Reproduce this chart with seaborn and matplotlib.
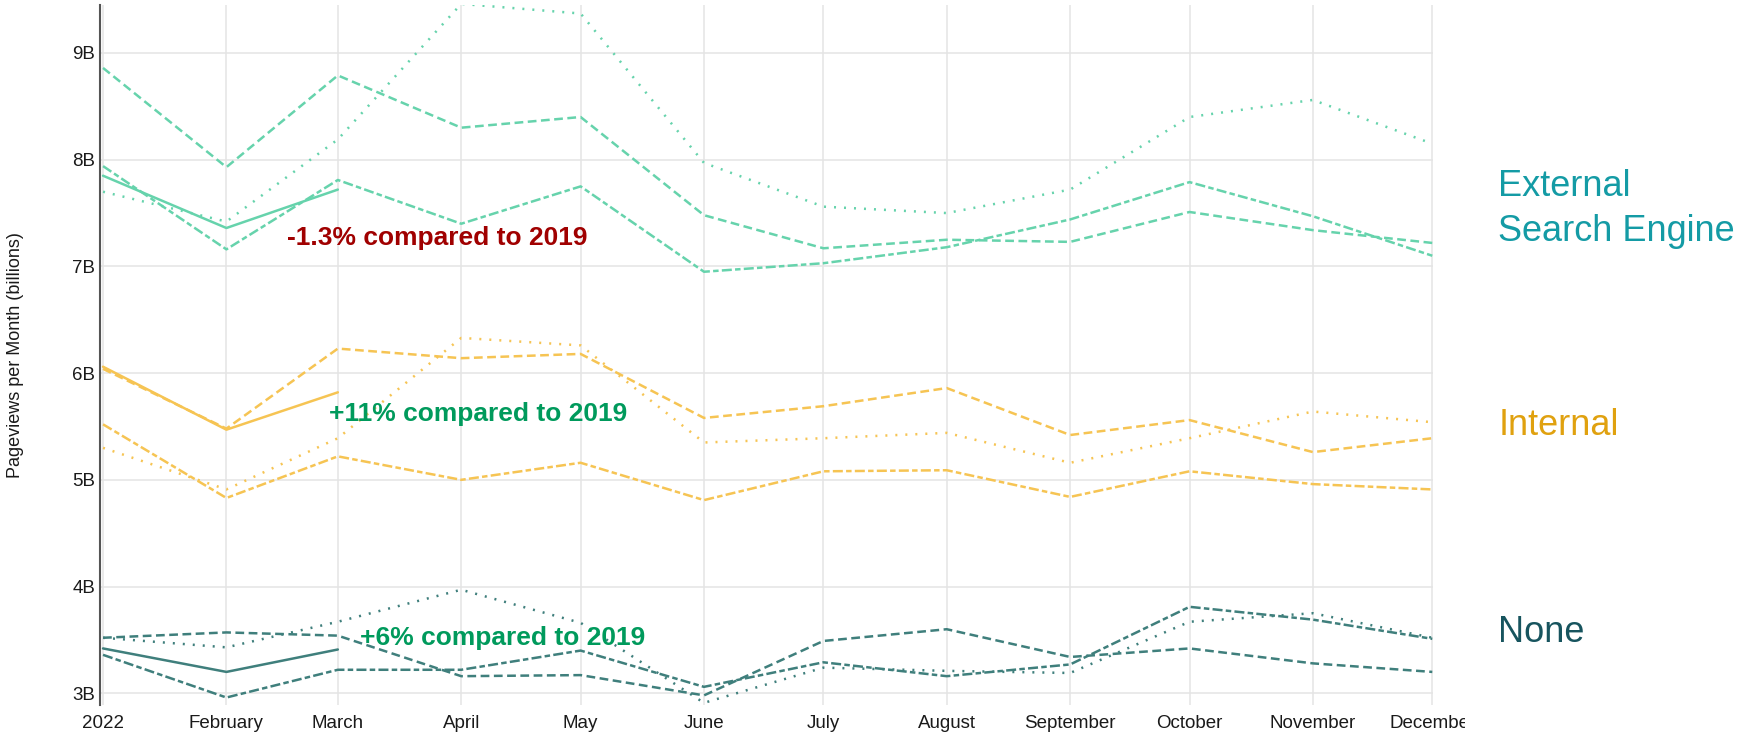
import pandas as pd
import matplotlib
matplotlib.use("Agg")
import matplotlib.pyplot as plt
import matplotlib.transforms as mtransforms
import seaborn as sns

# months of the year (date axis, so spacing follows days per month)
months = pd.date_range("2022-01-01", periods=12, freq="MS")
month_labels = ["2022", "February", "March", "April", "May", "June", "July",
                "August", "September", "October", "November", "December"]

# pageviews per month, billions
ext_2019 = [8.86, 7.93, 8.79, 8.30, 8.40, 7.48, 7.17, 7.25, 7.23, 7.51, 7.34, 7.22]
ext_2020 = [7.70, 7.42, 8.19, 9.46, 9.37, 7.97, 7.56, 7.50, 7.72, 8.40, 8.56, 8.15]
ext_2021 = [7.94, 7.16, 7.81, 7.40, 7.75, 6.95, 7.03, 7.18, 7.44, 7.79, 7.47, 7.10]
ext_2022 = [7.85, 7.36, 7.72]

int_2019 = [6.04, 5.48, 6.23, 6.14, 6.18, 5.58, 5.69, 5.86, 5.42, 5.56, 5.26, 5.39]
int_2020 = [5.30, 4.91, 5.39, 6.33, 6.26, 5.35, 5.39, 5.44, 5.16, 5.39, 5.64, 5.54]
int_2021 = [5.52, 4.83, 5.22, 5.00, 5.16, 4.81, 5.08, 5.09, 4.84, 5.08, 4.96, 4.91]
int_2022 = [6.06, 5.47, 5.82]

none_2019 = [3.52, 3.57, 3.54, 3.16, 3.17, 2.98, 3.49, 3.60, 3.34, 3.42, 3.28, 3.20]
none_2020 = [3.52, 3.43, 3.67, 3.97, 3.66, 2.91, 3.24, 3.21, 3.19, 3.67, 3.75, 3.52]
none_2021 = [3.36, 2.96, 3.22, 3.22, 3.40, 3.06, 3.29, 3.16, 3.27, 3.81, 3.69, 3.51]
none_2022 = [3.42, 3.20, 3.41]

groups = ["External Search Engine", "Internal", "None"]
group_labels = ["External\nSearch Engine", "Internal", "None"]
notes = ["-1.3% compared to 2019", "+11% compared to 2019", "+6% compared to 2019"]
yticks = [3, 4, 5, 6, 7, 8, 9]

series = {
    ("External Search Engine", "2019"): ext_2019,
    ("External Search Engine", "2020"): ext_2020,
    ("External Search Engine", "2021"): ext_2021,
    ("External Search Engine", "2022"): ext_2022,
    ("Internal", "2019"): int_2019,
    ("Internal", "2020"): int_2020,
    ("Internal", "2021"): int_2021,
    ("Internal", "2022"): int_2022,
    ("None", "2019"): none_2019,
    ("None", "2020"): none_2020,
    ("None", "2021"): none_2021,
    ("None", "2022"): none_2022,
}

rows = []
for (src, yr), vals in series.items():
    for m, v in zip(months, vals):
        rows.append({"month": m, "views": v, "source": src, "year": yr})
df = pd.DataFrame(rows)

sns.set_theme(style="whitegrid")
plt.rcParams["font.family"] = ["Liberation Sans", "DejaVu Sans"]

fig = plt.figure(figsize=(17.43, 7.32), dpi=100)
ax = fig.add_axes([0.0574, 0.0369, 0.7648, 0.9563])

palette = {"External Search Engine": "#66d3ac", "Internal": "#f6c453", "None": "#3f7f7c"}
dashes = {"2019": (3.5, 1.8), "2020": (0.8, 3.2), "2021": (4, 1.3, 2.2, 1.3), "2022": ""}

sns.lineplot(data=df, x="month", y="views", hue="source", style="year",
             palette=palette, dashes=dashes, estimator=None, lw=1.8,
             legend=False, ax=ax)

ax.set_xlim(months[0] - pd.Timedelta(days=0.75), months[-1] + pd.Timedelta(days=0.2))
ax.set_ylim(2.89, 9.45)
ax.set_xticks(months)
ax.set_xticklabels(month_labels)
ax.set_yticks(yticks)
ax.set_yticklabels([f"{v}B" for v in yticks])
ax.grid(color="#e4e4e4", lw=1.1)
for side in ["top", "right", "bottom"]:
    ax.spines[side].set_visible(False)
ax.spines["left"].set_color("#555555")
ax.spines["left"].set_linewidth(1.5)
ax.tick_params(axis="x", length=0, labelsize=13.5, labelcolor="#1a1a1a", pad=7.5)
ax.tick_params(axis="y", length=0, labelsize=13.5, labelcolor="#1a1a1a", pad=3.6)
ax.set_xlabel("")
ax.set_ylabel("Pageviews per Month (billions)", fontsize=13, color="#1a1a1a")
ax.yaxis.set_label_coords(-0.057, 0.5)

# last month label is cut off in the original
clip = mtransforms.TransformedBbox(mtransforms.Bbox([[0, 0], [0.8405, 1]]), fig.transFigure)
last = ax.get_xticklabels()[-1]
last.set_clip_box(clip)
last.set_clip_on(True)

# comparison notes
note_colors = ["#a00000", "#009a5c", "#009a5c"]
note_pos = [(0.1403, 0.657), (0.1718, 0.406), (0.195, 0.0857)]
for txt, c, (x, y) in zip(notes, note_colors, note_pos):
    ax.text(x, y, txt, transform=ax.transAxes, fontsize=19, fontweight="bold",
            color=c, ha="left", va="baseline", zorder=5)

# group labels on the right
label_colors = ["#149ba5", "#e0a10f", "#17545e"]
label_pos = [0.663, 0.3857, 0.0904]
for txt, c, y in zip(group_labels, label_colors, label_pos):
    ax.text(1.0488, y, txt, transform=ax.transAxes, fontsize=26, color=c,
            ha="left", va="baseline", linespacing=1.38, clip_on=False)

fig.savefig("out.png", dpi=100)
